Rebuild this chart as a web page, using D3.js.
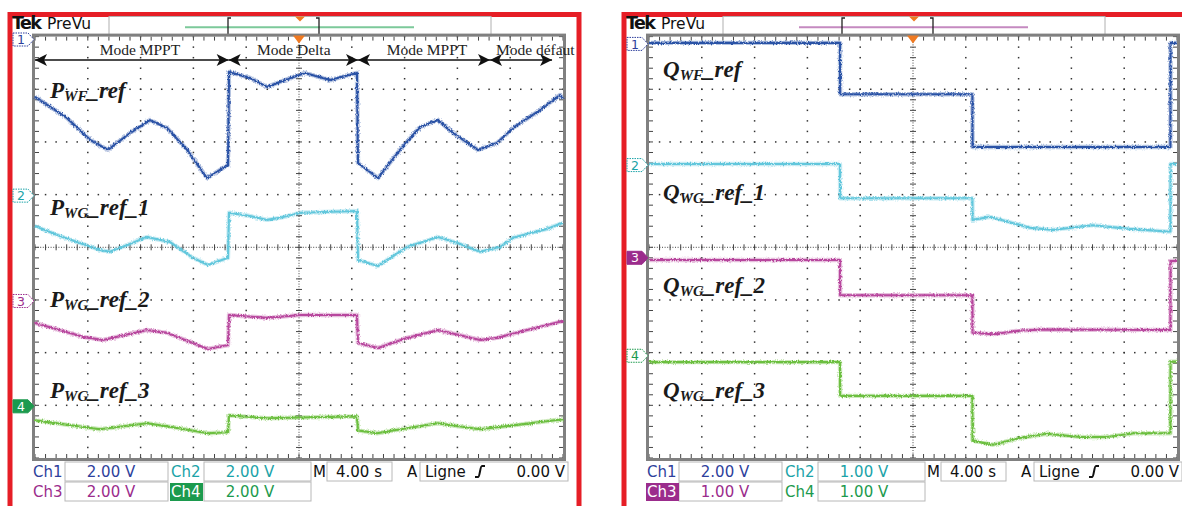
<!DOCTYPE html>
<html><head><meta charset="utf-8">
<script src="https://cdnjs.cloudflare.com/ajax/libs/d3/7.8.5/d3.min.js"></script>
<style>body{margin:0;background:#fff;}svg{display:block}</style>
</head><body>
<svg id="chart" width="1182" height="506"></svg>
<script>
// ---------- DATA (time in s, 10 div x 4.00 s; values in volts relative to channel ground) ----------
const timeDomain = [0, 40];
const channelNames = ["Ch1", "Ch2", "Ch3", "Ch4"];
const channelColors = ["#2c52a6", "#62c7dc", "#b8479e", "#6cbf3f"];
const statusColors = ["#2e3f9c", "#1ba3a8", "#9b2c8c", "#1c9a4e"];

// Left scope: active power references (2.00 V/div on all channels)
const leftVoltsPerDiv = [2, 2, 2, 2];
const leftVoltLabels = ["2.00 V", "2.00 V", "2.00 V", "2.00 V"];
const leftPositions = [4.0, 1.0, -1.0, -3.0];          // ground marker, div from centre
const leftTitles = [["P", "WF", "_ref"], ["P", "WG", "_ref_1"], ["P", "WG", "_ref_2"], ["P", "WG", "_ref_3"]];
const pWF = [[0,-2.29],[2.42,-3.09],[4.17,-3.92],[5.53,-4.30],[7.20,-3.66],[8.71,-3.17],[10.0,-3.47],[11.52,-4.30],[13.03,-5.37],[14.62,-4.87],[14.70,-1.34],[16.29,-1.57],[17.58,-1.91],[18.94,-1.65],[20.45,-1.38],[22.35,-1.65],[24.39,-1.38],[24.47,-4.80],[25.98,-5.37],[27.65,-4.30],[29.17,-3.43],[30.53,-3.17],[31.67,-3.66],[33.56,-4.30],[35.0,-4.04],[36.21,-3.47],[38.26,-2.79],[39.77,-2.22],[40,-2.33]];
const pWG1 = [[0,-1.19],[1.89,-1.57],[4.92,-2.10],[5.68,-2.17],[7.20,-1.87],[8.48,-1.61],[10.23,-1.80],[11.97,-2.40],[13.11,-2.67],[14.62,-2.40],[14.70,-0.69],[16.29,-0.81],[17.58,-0.96],[18.56,-0.88],[20.08,-0.69],[24.39,-0.62],[24.47,-2.48],[25.98,-2.71],[28.18,-1.99],[30.53,-1.61],[31.97,-1.83],[33.71,-2.17],[35.23,-1.99],[36.21,-1.64],[38.79,-1.30],[40,-1.07]];
const pWG2 = [[0,-0.87],[3.64,-1.40],[5.15,-1.52],[8.48,-1.14],[10.0,-1.25],[13.11,-1.86],[14.62,-1.71],[14.70,-0.57],[17.58,-0.68],[20.08,-0.57],[24.39,-0.57],[24.47,-1.63],[25.98,-1.82],[28.18,-1.44],[30.53,-1.14],[33.71,-1.52],[35.0,-1.44],[36.74,-1.21],[40,-0.80]];
const pWG3 = [[0,-0.57],[4.92,-0.91],[8.48,-0.68],[10.45,-0.83],[13.11,-1.06],[14.62,-1.02],[14.70,-0.38],[17.58,-0.49],[20.08,-0.46],[24.39,-0.42],[24.47,-0.95],[25.91,-1.06],[28.18,-0.87],[30.53,-0.68],[33.71,-0.91],[36.21,-0.76],[40,-0.53]];

// Right scope: reactive power references (Ch1 2.00 V/div, others 1.00 V/div)
const rightVoltsPerDiv = [2, 1, 1, 1];
const rightVoltLabels = ["2.00 V", "1.00 V", "1.00 V", "1.00 V"];
const rightPositions = [3.88, 1.58, -0.18, -2.04];
const rightTitles = [["Q", "WF", "_ref"], ["Q", "WG", "_ref_1"], ["Q", "WG", "_ref_2"], ["Q", "WG", "_ref_3"]];
const qWF = [[0,0],[14.47,0],[14.48,-1.95],[24.50,-1.95],[24.51,-3.95],[39.50,-3.95],[39.51,0],[40,0]];
const qWG1 = [[0,0],[14.47,0],[14.48,-0.65],[24.50,-0.65],[24.51,-1.06],[25.83,-1.00],[28.86,-1.21],[30.6,-1.25],[33.6,-1.16],[36.4,-1.23],[39.2,-1.28],[39.50,-1.28],[39.51,0],[40,0]];
const qWG2 = [[0,-0.06],[14.47,-0.06],[14.48,-0.73],[24.50,-0.73],[24.51,-1.44],[26.06,-1.47],[28.1,-1.40],[30.15,-1.38],[39.47,-1.39],[39.50,-1.39],[39.51,-0.08],[40,-0.08]];
const qWG3 = [[0,-0.14],[14.47,-0.14],[14.48,-0.78],[24.50,-0.78],[24.51,-1.63],[26.06,-1.71],[28.1,-1.58],[30.15,-1.50],[32.65,-1.56],[34.7,-1.56],[36.7,-1.49],[39.2,-1.49],[39.50,-1.49],[39.51,-0.13],[40,-0.13]];

// Mode annotation (left scope)
const modeLabels = ["Mode MPPT", "Mode Delta", "Mode MPPT", "Mode défaut"];
const modeBounds = [0, 14.67, 24.47, 34.47, 39.17];
const modeLabelT = [7.95, 19.6, 29.7, 37.9];

const timebaseLabel = "4.00 s";
const triggerLabel = "Ligne";
const triggerLevel = "0.00 V";

// ---------- LAYOUT ----------
const svg = d3.select("#chart");
const defs = svg.append("defs");
const filt = defs.append("filter").attr("id", "noise").attr("x", "-2%").attr("y", "-20%").attr("width", "104%").attr("height", "140%");
filt.append("feTurbulence").attr("type", "fractalNoise").attr("baseFrequency", "1.4 0.5").attr("numOctaves", 2).attr("seed", 3).attr("result", "t");
filt.append("feDisplacementMap").attr("in", "SourceGraphic").attr("in2", "t").attr("scale", 3.4).attr("xChannelSelector", "R").attr("yChannelSelector", "G");

const panels = [
  {ox: 0, x0: 35, x1: 563, red: [10, 579], traces: [pWF, pWG1, pWG2, pWG3], vpd: leftVoltsPerDiv, pos: leftPositions,
   titles: leftTitles, titleY: [98, 215, 307, 398], titleX: 50, volts: leftVoltLabels, filled: 3, tint: "#7cc99a", modes: true},
  {ox: 614, x0: 649, x1: 1177, red: [624, 1240], traces: [qWF, qWG1, qWG2, qWG3], vpd: rightVoltsPerDiv, pos: rightPositions,
   titles: rightTitles, titleY: [77, 200, 293, 398], titleX: 663, volts: rightVoltLabels, filled: 2, tint: "#c58ac0", modes: false}
];
const Y0 = 36.6, Y1 = 458;

panels.forEach(p => {
  const g = svg.append("g");
  // red frame
  g.append("rect").attr("x", p.red[0]).attr("y", 14.5).attr("width", p.red[1] - p.red[0]).attr("height", 520)
    .attr("fill", "none").attr("stroke", "#e61e26").attr("stroke-width", 5);

  const x = d3.scaleLinear().domain(timeDomain).range([p.x0, p.x1]);
  const gx = d3.scaleLinear().domain([0, 10]).range([p.x0, p.x1]);
  const gy = d3.scaleLinear().domain([0, 8]).range([Y0, Y1]);

  // header
  const hx = p.ox;
  g.append("text").attr("x", hx + 12).attr("y", 28.5).attr("font-family", "DejaVu Sans").attr("font-weight", "bold")
    .attr("font-size", 17.5).attr("letter-spacing", -1.6).attr("fill", "#111").text("Tek");
  g.append("text").attr("x", hx + 47).attr("y", 29).attr("font-family", "DejaVu Sans").attr("font-size", 15.5).attr("fill", "#111").text("PreVu");
  g.append("rect").attr("x", hx + 109).attr("y", 16.5).attr("width", 382).attr("height", 20.5).attr("fill", "#fff").attr("stroke", "#b0b0b0");
  g.append("line").attr("x1", hx + 185).attr("x2", hx + 414).attr("y1", 27.3).attr("y2", 27.3).attr("stroke", p.tint).attr("stroke-width", 2);
  g.append("path").attr("d", `M${hx+231},18 h-3 v17 h3 M${hx+316},18 h3 v17 h-3`).attr("fill", "none").attr("stroke", "#222").attr("stroke-width", 1.3);
  g.append("path").attr("d", `M${hx+295},16.5 h10 l-5,5 z`).attr("fill", "#f07a22");

  // plot background
  g.append("rect").attr("x", p.x0).attr("y", Y0).attr("width", p.x1 - p.x0).attr("height", Y1 - Y0).attr("fill", "#fff");

  // grid dots
  const dots = [];
  for (let i = 1; i < 10; i++) if (i !== 5) for (let j = 0; j <= 40; j++) dots.push([gx(i), gy(j / 5)]);
  for (let j = 1; j < 8; j++) if (j !== 4) for (let k = 0; k <= 50; k++) dots.push([gx(k / 5), gy(j)]);
  g.append("g").selectAll("rect").data(dots).join("rect")
    .attr("x", d => d[0] - 0.75).attr("y", d => d[1] - 0.75).attr("width", 1.5).attr("height", 1.5).attr("fill", "#333");
  // centre cross
  const cg = g.append("g").attr("stroke", "#444").attr("stroke-width", 1);
  cg.append("line").attr("x1", gx(5)).attr("x2", gx(5)).attr("y1", Y0).attr("y2", Y1).attr("stroke-dasharray", "1,1.6");
  cg.append("line").attr("x1", p.x0).attr("x2", p.x1).attr("y1", gy(4)).attr("y2", gy(4)).attr("stroke-dasharray", "1,1.6");
  for (let j = 0; j <= 40; j++) cg.append("line").attr("x1", gx(5) - 3).attr("x2", gx(5) + 3).attr("y1", gy(j / 5)).attr("y2", gy(j / 5));
  for (let k = 0; k <= 50; k++) cg.append("line").attr("x1", gx(k / 5)).attr("x2", gx(k / 5)).attr("y1", gy(4) - 3).attr("y2", gy(4) + 3);
  // border ticks
  for (let k = 0; k <= 50; k++) {
    cg.append("line").attr("x1", gx(k / 5)).attr("x2", gx(k / 5)).attr("y1", Y0).attr("y2", Y0 + 4);
    cg.append("line").attr("x1", gx(k / 5)).attr("x2", gx(k / 5)).attr("y1", Y1 - 4).attr("y2", Y1);
  }
  for (let j = 0; j <= 40; j++) {
    cg.append("line").attr("x1", p.x0).attr("x2", p.x0 + 4).attr("y1", gy(j / 5)).attr("y2", gy(j / 5));
    cg.append("line").attr("x1", p.x1 - 4).attr("x2", p.x1).attr("y1", gy(j / 5)).attr("y2", gy(j / 5));
  }
  // frame
  g.append("rect").attr("x", p.x0 - 1.5).attr("y", Y0 - 1.5).attr("width", p.x1 - p.x0 + 3).attr("height", Y1 - Y0 + 3)
    .attr("fill", "none").attr("stroke", "#808080").attr("stroke-width", 3);

  // traces
  const tg = g.append("g").attr("filter", "url(#noise)");
  p.traces.forEach((data, c) => {
    const y = d3.scaleLinear().domain([(-4 - p.pos[c]) * p.vpd[c], (4 - p.pos[c]) * p.vpd[c]]).range([Y1, Y0]);
    const line = d3.line().x(d => x(d[0])).y(d => y(d[1]));
    tg.append("path").datum(data).attr("d", line).attr("fill", "none").attr("stroke", channelColors[c])
      .attr("stroke-opacity", 0.35).attr("stroke-width", 4.4).attr("stroke-linejoin", "round");
    tg.append("path").datum(data).attr("d", line).attr("fill", "none").attr("stroke", channelColors[c])
      .attr("stroke-width", 2.1).attr("stroke-linejoin", "round");
    // channel marker
    const my = Math.max(y(0) + 1, 39.5), mx = p.x0 - 22;
    const filled = c === p.filled;
    g.append("path").attr("d", `M${mx},${my - 6.5} h15 l6,6.5 l-6,6.5 h-15 z`)
      .attr("fill", filled ? statusColors[c] : "#fff").attr("stroke", statusColors[c]).attr("stroke-width", 1)
      .attr("stroke-dasharray", filled ? null : "1.5,1");
    g.append("text").attr("x", mx + 8).attr("y", my + 4.6).attr("text-anchor", "middle").attr("font-family", "DejaVu Sans")
      .attr("font-size", 12.5).attr("fill", filled ? "#fff" : statusColors[c]).text(String(c + 1));
    // title
    const t = p.titles[c];
    const tt = g.append("text").attr("x", p.titleX).attr("y", p.titleY[c]).attr("font-family", "Liberation Serif")
      .attr("font-style", "italic").attr("font-weight", "bold").attr("font-size", 23).attr("fill", "#1a1a1a");
    tt.append("tspan").text(t[0]);
    tt.append("tspan").attr("font-size", 15).attr("dy", 3).text(t[1]);
    tt.append("tspan").attr("dy", -3).text(t[2]);
  });

  // trigger marker at top
  g.append("path").attr("d", `M${gx(5) - 6},${Y0 - 1} h12 l-6,8 z`).attr("fill", "#f07a22");

  // mode annotations
  if (p.modes) {
    const ay = 60;
    const ag = g.append("g");
    modeLabels.forEach((lab, i) => {
      const a = x(modeBounds[i]), b = x(modeBounds[i + 1]);
      ag.append("line").attr("x1", a).attr("x2", b).attr("y1", ay).attr("y2", ay).attr("stroke", "#111").attr("stroke-width", 1.6);
      ag.append("path").attr("d", `M${a},${ay} l12,-6 l-3,6 l3,6 z`).attr("fill", "#111");
      ag.append("path").attr("d", `M${b},${ay} l-12,-6 l3,6 l-3,6 z`).attr("fill", "#111");
      ag.append("text").attr("x", x(modeLabelT[i])).attr("y", 55).attr("text-anchor", "middle")
        .attr("font-family", "Liberation Serif").attr("font-size", 15.5).attr("fill", "#222").text(lab);
    });
  }

  // status bar
  const sb = g.append("g").attr("font-family", "DejaVu Sans").attr("font-size", 15);
  const box = (x0, x1, yy) => sb.append("rect").attr("x", x0).attr("y", yy).attr("width", x1 - x0).attr("height", 19)
    .attr("fill", "#fff").attr("stroke", "#b8b8b8");
  const r1 = 462, r2 = 482;
  box(hx + 65, hx + 168, r1); box(hx + 204, hx + 311, r1); box(hx + 327, hx + 392, r1); box(hx + 420, hx + 568, r1);
  box(hx + 65, hx + 168, r2); box(hx + 204, hx + 311, r2);
  const chPos = [[hx + 33, r1], [hx + 171, r1], [hx + 33, r2], [hx + 171, r2]];
  const valPos = [[hx + 111, r1], [hx + 250, r1], [hx + 111, r2], [hx + 250, r2]];
  channelNames.forEach((nm, c) => {
    const isBg = c === p.filled;
    if (isBg) sb.append("rect").attr("x", chPos[c][0] - 1).attr("y", chPos[c][1] + 1).attr("width", 33).attr("height", 18).attr("fill", statusColors[c]);
    sb.append("text").attr("x", chPos[c][0]).attr("y", chPos[c][1] + 15).attr("fill", isBg ? "#fff" : statusColors[c]).text(nm);
    sb.append("text").attr("x", valPos[c][0]).attr("y", valPos[c][1] + 15).attr("text-anchor", "middle").attr("fill", statusColors[c]).text(p.volts[c]);
  });
  sb.append("text").attr("x", hx + 313).attr("y", r1 + 15).attr("fill", "#111").text("M");
  sb.append("text").attr("x", hx + 359).attr("y", r1 + 15).attr("text-anchor", "middle").attr("fill", "#111").text(timebaseLabel);
  sb.append("text").attr("x", hx + 407).attr("y", r1 + 15).attr("fill", "#111").text("A");
  sb.append("text").attr("x", hx + 425).attr("y", r1 + 15).attr("fill", "#111").text(triggerLabel);
  sb.append("path").attr("d", `M${hx + 475},${r1 + 15} h3 c2,0 2,-11 4,-11 h3`).attr("fill", "none").attr("stroke", "#111").attr("stroke-width", 2);
  sb.append("text").attr("x", hx + 565).attr("y", r1 + 15).attr("text-anchor", "end").attr("fill", "#111").text(triggerLevel);
});
</script>
</body></html>
